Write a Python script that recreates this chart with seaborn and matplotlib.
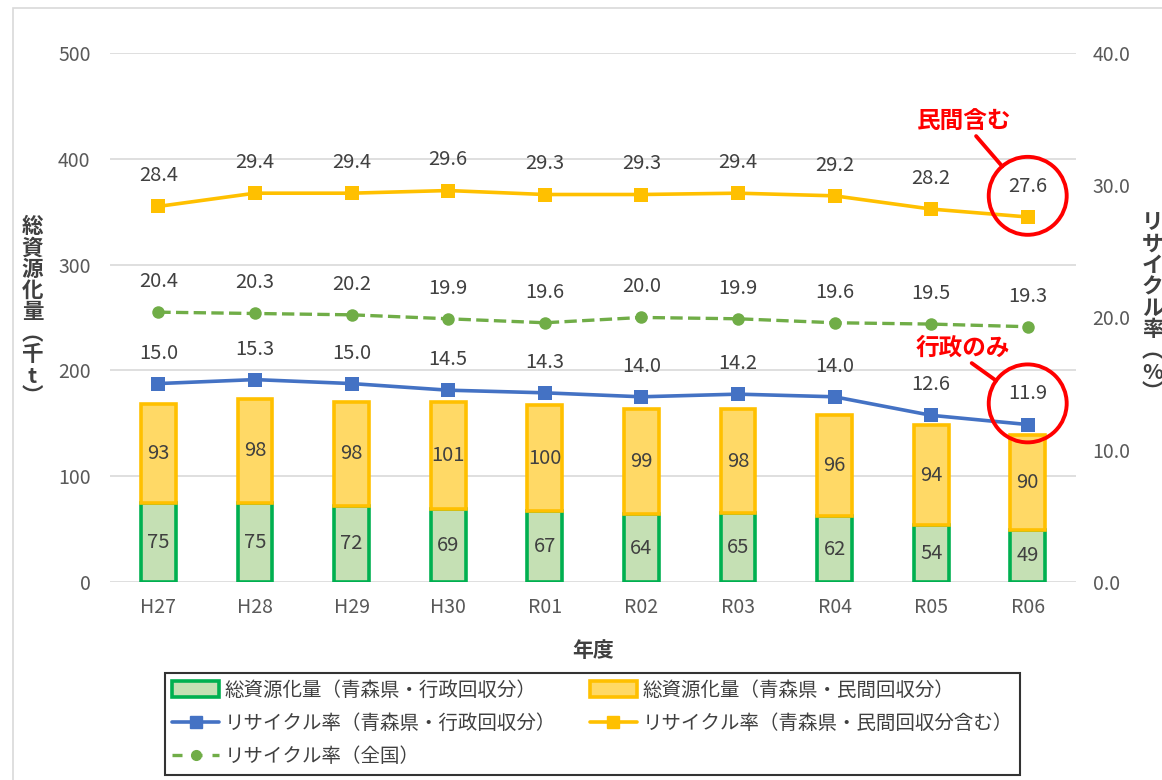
import numpy as np
import pandas as pd
import matplotlib
matplotlib.use("Agg")
import matplotlib.pyplot as plt
import seaborn as sns
from matplotlib.patches import Patch, Rectangle
from matplotlib.lines import Line2D

# =========================
# DATA
# =========================

years = ["H27", "H28", "H29", "H30", "R01", "R02", "R03", "R04", "R05", "R06"]
gyosei_amount = [75, 75, 72, 69, 67, 64, 65, 62, 54, 49]
minkan_amount = [93, 98, 98, 101, 100, 99, 98, 96, 94, 90]
rate_gyosei = [15.0, 15.3, 15.0, 14.5, 14.3, 14.0, 14.2, 14.0, 12.6, 11.9]
rate_minkan = [28.4, 29.4, 29.4, 29.6, 29.3, 29.3, 29.4, 29.2, 28.2, 27.6]
rate_zenkoku = [20.4, 20.3, 20.2, 19.9, 19.6, 20.0, 19.9, 19.6, 19.5, 19.3]

df = pd.DataFrame({
    "year": years,
    "gyosei": gyosei_amount,
    "minkan": minkan_amount,
    "rate_gyosei": rate_gyosei,
    "rate_minkan": rate_minkan,
    "rate_zenkoku": rate_zenkoku,
})
df["pos"] = np.arange(len(df))

# =========================
# STYLE
# =========================

sns.set_theme(style="white")
plt.rcParams["font.family"] = ["Noto Sans CJK JP", "DejaVu Sans"]

GREEN_FILL = "#c5e0b4"
GREEN_EDGE = "#00b050"
ORANGE_FILL = "#ffd966"
ORANGE_EDGE = "#ffc000"
BLUE = "#4472c4"
YELLOW = "#ffc000"
LGREEN = "#70ad47"
TEXT = "#404040"
TICK = "#595959"
RED = "#ff0000"

fig = plt.figure(figsize=(11.62, 7.8), dpi=100)
ax = fig.add_axes([0.0947, 0.254, 0.8313, 0.678])

# =========================
# BARS
# =========================

sns.barplot(data=df, x="year", y="gyosei", color=GREEN_FILL, width=0.36,
            saturation=1, edgecolor=GREEN_EDGE, linewidth=2.6, ax=ax, zorder=2)
ax.bar(df["pos"], df["minkan"], bottom=df["gyosei"], width=0.36,
       color=ORANGE_FILL, edgecolor=ORANGE_EDGE, linewidth=2.6, zorder=3)

for i, row in df.iterrows():
    ax.text(row["pos"], row["gyosei"] / 2, str(row["gyosei"]), ha="center",
            va="center", fontsize=14.5, color=TEXT, zorder=5)
    ax.text(row["pos"], row["gyosei"] + row["minkan"] / 2, str(row["minkan"]),
            ha="center", va="center", fontsize=14.5, color=TEXT, zorder=5)

ax.set_ylim(0, 500)
ax.set_xlim(-0.5, len(years) - 0.5)
ax.set_yticks(range(0, 501, 100))
ax.yaxis.grid(True, color="#d9d9d9", linewidth=1.2, zorder=0)
ax.set_axisbelow(True)
for s in ax.spines.values():
    s.set_visible(False)
ax.tick_params(axis="both", length=0, labelsize=14, colors=TICK)
ax.tick_params(axis="x", pad=11)
ax.tick_params(axis="y", pad=14)
ax.set_xlabel("年度", fontsize=15, fontweight="bold", color=TEXT, labelpad=16)
ax.set_ylabel("")

# =========================
# LINES
# =========================

ax2 = ax.twinx()
sns.lineplot(data=df, x="pos", y="rate_minkan", color=YELLOW, marker="s",
             markersize=10, markeredgewidth=0, linewidth=2.6, ax=ax2)
sns.lineplot(data=df, x="pos", y="rate_zenkoku", color=LGREEN, marker="o",
             markersize=9, markeredgewidth=0, linewidth=2.4, linestyle="--",
             dashes=(4, 3.5), ax=ax2)
sns.lineplot(data=df, x="pos", y="rate_gyosei", color=BLUE, marker="s",
             markersize=10, markeredgewidth=0, linewidth=2.6, ax=ax2)

for col in ["rate_minkan", "rate_zenkoku", "rate_gyosei"]:
    for x, v in zip(df["pos"], df[col]):
        ax2.annotate(f"{v:.1f}", (x, v), xytext=(0, 22), textcoords="offset points",
                     ha="center", va="center", fontsize=14.5, color=TEXT)

ax2.set_ylim(0, 40)
ax2.set_xlim(-0.5, len(years) - 0.5)
ax2.set_yticks(range(0, 41, 10))
ax2.set_yticklabels([f"{t:.1f}" for t in range(0, 41, 10)])
for s in ax2.spines.values():
    s.set_visible(False)
ax2.tick_params(axis="y", length=0, labelsize=14, colors=TICK, pad=12)
ax2.set_ylabel("")
ax2.set_xlabel("")

# red circles and notes
last = df["pos"].iloc[-1]
ax2.scatter([last, last], [rate_minkan[-1] + 1.6, rate_gyosei[-1] + 1.6],
            s=3150, facecolors="none", edgecolors=RED, linewidths=2.8,
            zorder=6, clip_on=False)
ax2.annotate("民間含む", (last, rate_minkan[-1] + 1.6),
             xytext=(-46, 54), textcoords="offset points", ha="center", va="center",
             fontsize=17, fontweight="bold", color=RED,
             arrowprops=dict(arrowstyle="-", color=RED, lw=2.8,
                             shrinkA=0, shrinkB=28, relpos=(0.6, 0)))
ax2.annotate("行政のみ", (last, rate_gyosei[-1] + 1.6),
             xytext=(-47, 40), textcoords="offset points", ha="center", va="center",
             fontsize=17, fontweight="bold", color=RED,
             arrowprops=dict(arrowstyle="-", color=RED, lw=2.8,
                             shrinkA=0, shrinkB=28, relpos=(0.55, 0)))

# =========================
# AXIS TITLES (vertical)
# =========================

fig.text(0.028, 0.6, "\n".join("総資源化量︵千t︶"), ha="center", va="center",
         fontsize=15.5, fontweight="bold", color=TEXT, linespacing=1.02)
fig.text(0.992, 0.605, "\n".join("リサイクル率︵%︶"), ha="center", va="center",
         fontsize=15.5, fontweight="bold", color=TEXT, linespacing=1.02)

# =========================
# LEGEND
# =========================

handles = [
    Patch(facecolor=GREEN_FILL, edgecolor=GREEN_EDGE, linewidth=2.6),
    Line2D([], [], color=BLUE, marker="s", markersize=8, linewidth=2.6),
    Line2D([], [], color=LGREEN, marker="o", markersize=7, linewidth=2.4,
           linestyle="--", dashes=(3, 3)),
    Patch(facecolor=ORANGE_FILL, edgecolor=ORANGE_EDGE, linewidth=2.6),
    Line2D([], [], color=YELLOW, marker="s", markersize=8, linewidth=2.6),
]
labels = [
    "総資源化量（青森県・行政回収分）",
    "リサイクル率（青森県・行政回収分）",
    "リサイクル率（全国）",
    "総資源化量（青森県・民間回収分）",
    "リサイクル率（青森県・民間回収分含む）",
]
leg = fig.legend(handles, labels, ncol=2, loc="lower left",
                 bbox_to_anchor=(0.142, 0.007, 0.736, 0.13), mode="expand",
                 fontsize=14, frameon=True, fancybox=False, edgecolor="black",
                 handlelength=2.4, handleheight=0.9, labelspacing=0.62,
                 borderpad=0.38, handletextpad=0.3, borderaxespad=0)
leg.get_frame().set_linewidth(1.5)
for t in leg.get_texts():
    t.set_color(TEXT)

# outer chart border
fig.add_artist(Rectangle((0.011, -0.01), 1.0, 1.0, transform=fig.transFigure,
                         fill=False, edgecolor="#d9d9d9", linewidth=1.2))

fig.savefig("out.png", dpi=100)
